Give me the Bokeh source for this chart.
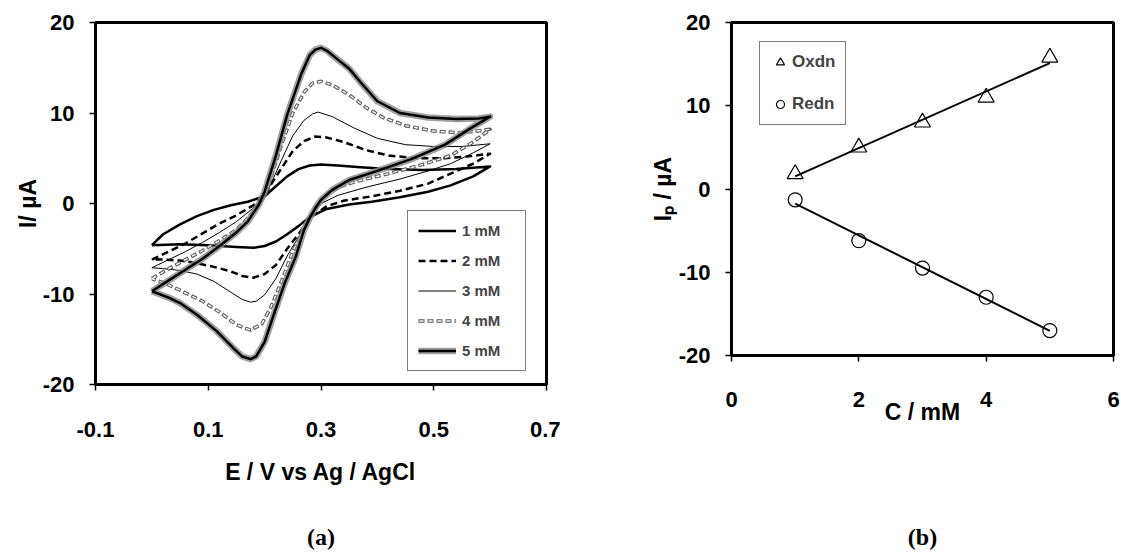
import numpy as np
from bokeh.plotting import figure
from bokeh.models import Range1d, FixedTicker, Legend, LegendItem, LinearAxis
from bokeh.layouts import row
from bokeh.embed import file_html
from bokeh.resources import INLINE

# ---------------- (a) cyclic voltammograms ----------------
# potential E (V vs Ag/AgCl) and current I (uA); forward (anodic) then reverse sweep
fwd_E1 = [0.00, 0.02, 0.05, 0.08, 0.11, 0.14, 0.17, 0.20, 0.22, 0.24, 0.26, 0.28, 0.30, 0.33, 0.37, 0.42, 0.48, 0.54, 0.60]
fwd_I1 = [-4.6, -3.4, -2.3, -1.4, -0.7, -0.2, 0.2, 0.8, 1.9, 3.0, 3.8, 4.2, 4.3, 4.2, 4.0, 3.8, 3.7, 3.8, 4.1]
rev_E1 = [0.60, 0.57, 0.53, 0.49, 0.44, 0.39, 0.35, 0.31, 0.28, 0.26, 0.24, 0.22, 0.20, 0.18, 0.15, 0.10, 0.05, 0.00]
rev_I1 = [4.1, 3.0, 2.0, 1.3, 0.7, 0.2, -0.1, -0.6, -1.5, -2.5, -3.4, -4.2, -4.7, -4.9, -4.8, -4.6, -4.5, -4.6]

fwd_E2 = [0.00, 0.03, 0.06, 0.09, 0.12, 0.15, 0.18, 0.20, 0.21, 0.23, 0.25, 0.27, 0.29, 0.31, 0.34, 0.38, 0.42, 0.47, 0.52, 0.56, 0.60]
fwd_I2 = [-6.2, -5.3, -4.4, -3.3, -2.2, -1.3, -0.2, 0.8, 2.0, 3.9, 5.8, 6.9, 7.4, 7.3, 6.8, 5.9, 5.3, 5.0, 5.0, 5.2, 5.5]
rev_E2 = [0.60, 0.57, 0.53, 0.49, 0.44, 0.39, 0.34, 0.31, 0.28, 0.26, 0.24, 0.22, 0.20, 0.18, 0.16, 0.14, 0.11, 0.08, 0.05, 0.02, 0.00]
rev_I2 = [5.5, 4.4, 3.3, 2.2, 1.4, 0.8, 0.3, -0.3, -1.6, -3.4, -5.0, -6.8, -7.8, -8.2, -8.0, -7.5, -7.0, -6.6, -6.3, -6.2, -6.2]

fwd_E3 = [0.00, 0.03, 0.06, 0.09, 0.12, 0.15, 0.18, 0.20, 0.21, 0.23, 0.25, 0.27, 0.285, 0.295, 0.32, 0.36, 0.40, 0.45, 0.50, 0.55, 0.60]
fwd_I3 = [-7.1, -6.2, -5.3, -4.3, -3.2, -2.0, -0.5, 0.9, 2.0, 4.8, 7.5, 9.2, 9.9, 10.1, 9.6, 8.3, 7.2, 6.5, 6.3, 6.3, 6.6]
rev_E3 = [0.60, 0.57, 0.53, 0.49, 0.44, 0.38, 0.33, 0.30, 0.28, 0.26, 0.24, 0.22, 0.20, 0.185, 0.175, 0.16, 0.14, 0.11, 0.08, 0.05, 0.02, 0.00]
rev_I3 = [6.6, 5.6, 4.4, 3.6, 2.7, 1.8, 0.9, 0.0, -1.6, -3.7, -5.8, -8.3, -10.1, -10.8, -10.9, -10.6, -9.8, -8.6, -7.8, -7.4, -7.2, -7.1]

fwd_E4 = [0.00, 0.03, 0.06, 0.09, 0.12, 0.15, 0.18, 0.20, 0.21, 0.23, 0.25, 0.27, 0.285, 0.30, 0.32, 0.35, 0.38, 0.41, 0.45, 0.50, 0.55, 0.60]
fwd_I4 = [-8.3, -7.2, -6.2, -5.2, -4.1, -2.9, -1.0, 0.9, 2.6, 6.5, 10.0, 12.3, 13.3, 13.5, 13.1, 12.0, 10.6, 9.5, 8.6, 8.0, 7.8, 8.2]
rev_E4 = [0.60, 0.57, 0.53, 0.48, 0.42, 0.36, 0.33, 0.31, 0.295, 0.28, 0.265, 0.25, 0.23, 0.21, 0.195, 0.175, 0.15, 0.12, 0.09, 0.06, 0.03, 0.00]
rev_I4 = [8.2, 6.8, 5.3, 4.3, 3.3, 2.4, 1.8, 1.0, 0.0, -1.6, -3.4, -5.3, -8.6, -11.6, -13.3, -14.0, -13.4, -12.0, -10.8, -9.9, -9.0, -8.3]

fwd_E5 = [0.00, 0.03, 0.06, 0.09, 0.12, 0.15, 0.17, 0.19, 0.20, 0.22, 0.24, 0.255, 0.265, 0.28, 0.29, 0.30, 0.31, 0.33, 0.35, 0.37, 0.40, 0.44, 0.49, 0.54, 0.58, 0.60]
fwd_I5 = [-9.7, -8.5, -7.3, -6.1, -4.7, -3.2, -2.0, -0.1, 1.3, 5.3, 9.8, 12.5, 14.3, 16.4, 17.0, 17.2, 16.9, 15.9, 14.9, 13.4, 11.3, 10.0, 9.5, 9.35, 9.4, 9.6]
rev_E5 = [0.60, 0.565, 0.52, 0.46, 0.40, 0.35, 0.32, 0.30, 0.29, 0.28, 0.27, 0.255, 0.235, 0.215, 0.20, 0.185, 0.175, 0.16, 0.145, 0.115, 0.08, 0.05, 0.03, 0.00]
rev_I5 = [9.6, 8.3, 6.5, 4.9, 3.6, 2.6, 1.5, 0.4, -0.5, -1.6, -2.9, -5.9, -8.9, -12.5, -15.3, -16.9, -17.2, -16.9, -16.0, -14.1, -12.3, -11.0, -10.4, -9.7]

conc_labels = ["1 mM", "2 mM", "3 mM", "4 mM", "5 mM"]
x_ticks_a = [-0.1, 0.1, 0.3, 0.5, 0.7]
y_ticks = [-20, -10, 0, 10, 20]

# ---------------- (b) peak current vs concentration ----------------
conc = [1, 2, 3, 4, 5]
ip_oxdn = [1.8, 5.0, 8.0, 11.0, 15.8]
ip_redn = [-1.3, -6.2, -9.5, -13.0, -17.0]
x_ticks_b = [0, 2, 4, 6]

FONT = "Liberation Sans"


def style(p):
    p.grid.visible = False
    p.background_fill_color = "white"
    p.border_fill_color = "white"
    p.outline_line_color = "black"
    p.outline_line_width = 3
    p.outline_line_alpha = 1
    for ax in (p.xaxis[0], p.yaxis[0]):
        ax.axis_line_width = 3
        ax.axis_line_color = "black"
        ax.major_tick_out = 6
        ax.major_tick_in = 0
        ax.major_tick_line_width = 1.5
        ax.minor_tick_line_color = None
        ax.major_label_text_font = FONT
        ax.major_label_text_font_style = "bold"
        ax.major_label_text_font_size = "22px"
        ax.major_label_text_color = "black"
        ax.axis_label_text_font = FONT
        ax.axis_label_text_font_style = "bold"
        ax.axis_label_text_font_size = "23px"
        ax.axis_label_text_color = "black"


def plain_labels(vals):
    # hyphen-minus instead of the typographic minus sign
    return {v: ("%g" % v) for v in vals}


def caption_axis(p, text, standoff):
    # an empty axis below the main one, used only to carry the panel caption
    ax = LinearAxis(ticker=FixedTicker(ticks=[]), axis_line_color=None,
                    major_tick_line_color=None, minor_tick_line_color=None,
                    major_label_text_font_size="0px", major_label_standoff=0,
                    axis_label=text, axis_label_standoff=standoff,
                    axis_label_text_font="Liberation Serif",
                    axis_label_text_font_style="bold",
                    axis_label_text_font_size="24px", axis_label_text_color="black")
    p.add_layout(ax, "below")


# ---------- panel (a) ----------
p1 = figure(width=560, height=554, x_range=Range1d(-0.1, 0.7), y_range=Range1d(-20, 20),
            output_backend="svg", toolbar_location=None,
            min_border_left=95, min_border_right=14, min_border_top=22, min_border_bottom=170)
p1.frame_align = False
style(p1)
p1.xaxis.ticker = FixedTicker(ticks=x_ticks_a)
p1.yaxis.ticker = FixedTicker(ticks=y_ticks)
p1.xaxis.major_label_overrides = plain_labels(x_ticks_a)
p1.yaxis.major_label_overrides = plain_labels(y_ticks)
p1.xaxis.axis_label = "E / V vs Ag / AgCl"
p1.yaxis.axis_label = "I/ \u00b5A"
p1.xaxis.major_label_standoff = 31
p1.xaxis.axis_label_standoff = 19
p1.yaxis.major_label_standoff = 15
p1.yaxis.axis_label_standoff = -1


def loop(fe, fi, re_, ri):
    return fe + re_[1:], fi + ri[1:]


E1, I1 = loop(fwd_E1, fwd_I1, rev_E1, rev_I1)
E2, I2 = loop(fwd_E2, fwd_I2, rev_E2, rev_I2)
E3, I3 = loop(fwd_E3, fwd_I3, rev_E3, rev_I3)
E4, I4 = loop(fwd_E4, fwd_I4, rev_E4, rev_I4)
E5, I5 = loop(fwd_E5, fwd_I5, rev_E5, rev_I5)

r1 = p1.line(E1, I1, line_color="black", line_width=2.5, line_join="round")
r2 = p1.line(E2, I2, line_color="black", line_width=2.5, line_dash="7 4", line_join="round")
r3 = p1.line(E3, I3, line_color="black", line_width=1.0, line_join="round")
r4a = p1.line(E4, I4, line_color="#5a5a5a", line_width=3.5, line_dash="6 3", line_join="round")
r4b = p1.line(E4, I4, line_color="white", line_width=1.4, line_dash="4 5", line_dash_offset=-1,
              line_join="round")
r5a = p1.line(E5, I5, line_color="#8a8a8a", line_width=6.5, line_alpha=0.8, line_join="round")
r5b = p1.line(E5, I5, line_color="black", line_width=2.5, line_join="round")

leg1 = Legend(items=[
    LegendItem(label=conc_labels[0], renderers=[r1]),
    LegendItem(label=conc_labels[1], renderers=[r2]),
    LegendItem(label=conc_labels[2], renderers=[r3]),
    LegendItem(label=conc_labels[3], renderers=[r4a, r4b]),
    LegendItem(label=conc_labels[4], renderers=[r5a, r5b]),
], location=(312, 13), padding=10, spacing=11, glyph_height=19, glyph_width=38,
    label_standoff=6, label_width=53, label_height=19, margin=0,
    label_text_font=FONT, label_text_font_style="bold", label_text_font_size="15px",
    border_line_color="black", border_line_width=1, background_fill_color="white",
    background_fill_alpha=1)
p1.add_layout(leg1)
caption_axis(p1, "(a)", 36)

# ---------- panel (b) ----------
p2 = figure(width=561, height=554, x_range=Range1d(0, 6), y_range=Range1d(-20, 20),
            output_backend="svg", toolbar_location=None,
            min_border_left=171, min_border_right=8, min_border_top=22, min_border_bottom=199)
p2.frame_align = False
style(p2)
p2.xaxis.ticker = FixedTicker(ticks=x_ticks_b)
p2.yaxis.ticker = FixedTicker(ticks=y_ticks)
p2.yaxis.major_label_overrides = plain_labels(y_ticks)
p2.xaxis.axis_label = "C / mM"
p2.yaxis.axis_label = "I\u209a / \u00b5A"
p2.xaxis.major_label_standoff = 30
p2.xaxis.axis_label_standoff = -11
p2.yaxis.major_label_standoff = 15
p2.yaxis.axis_label_standoff = 0

cx = np.array(conc, dtype=float)
xfit = np.array([cx.min(), cx.max()])
so, io = np.polyfit(cx, np.array(ip_oxdn), 1)
sr, ir = np.polyfit(cx, np.array(ip_redn), 1)
p2.line(xfit, so * xfit + io, line_color="black", line_width=2)
p2.line(xfit, sr * xfit + ir, line_color="black", line_width=2)

ro = p2.scatter(conc, ip_oxdn, marker="triangle", size=16, fill_color=None,
                line_color="black", line_width=1.2)
rr = p2.scatter(conc, ip_redn, marker="circle", size=14, fill_color=None,
                line_color="black", line_width=1.2)

leg2 = Legend(items=[
    LegendItem(label="Oxdn", renderers=[ro]),
    LegendItem(label="Redn", renderers=[rr]),
], location=(28, 230), padding=10, spacing=22, glyph_height=20, glyph_width=20,
    label_standoff=2, label_height=20, margin=0,
    label_text_font=FONT, label_text_font_style="bold", label_text_font_size="17px",
    border_line_color="black", border_line_width=1, background_fill_color="white",
    background_fill_alpha=1)
p2.add_layout(leg2)
caption_axis(p2, "(b)", 96)

layout = row(p1, p2)
open("out.html", "w").write(file_html(layout, INLINE))
